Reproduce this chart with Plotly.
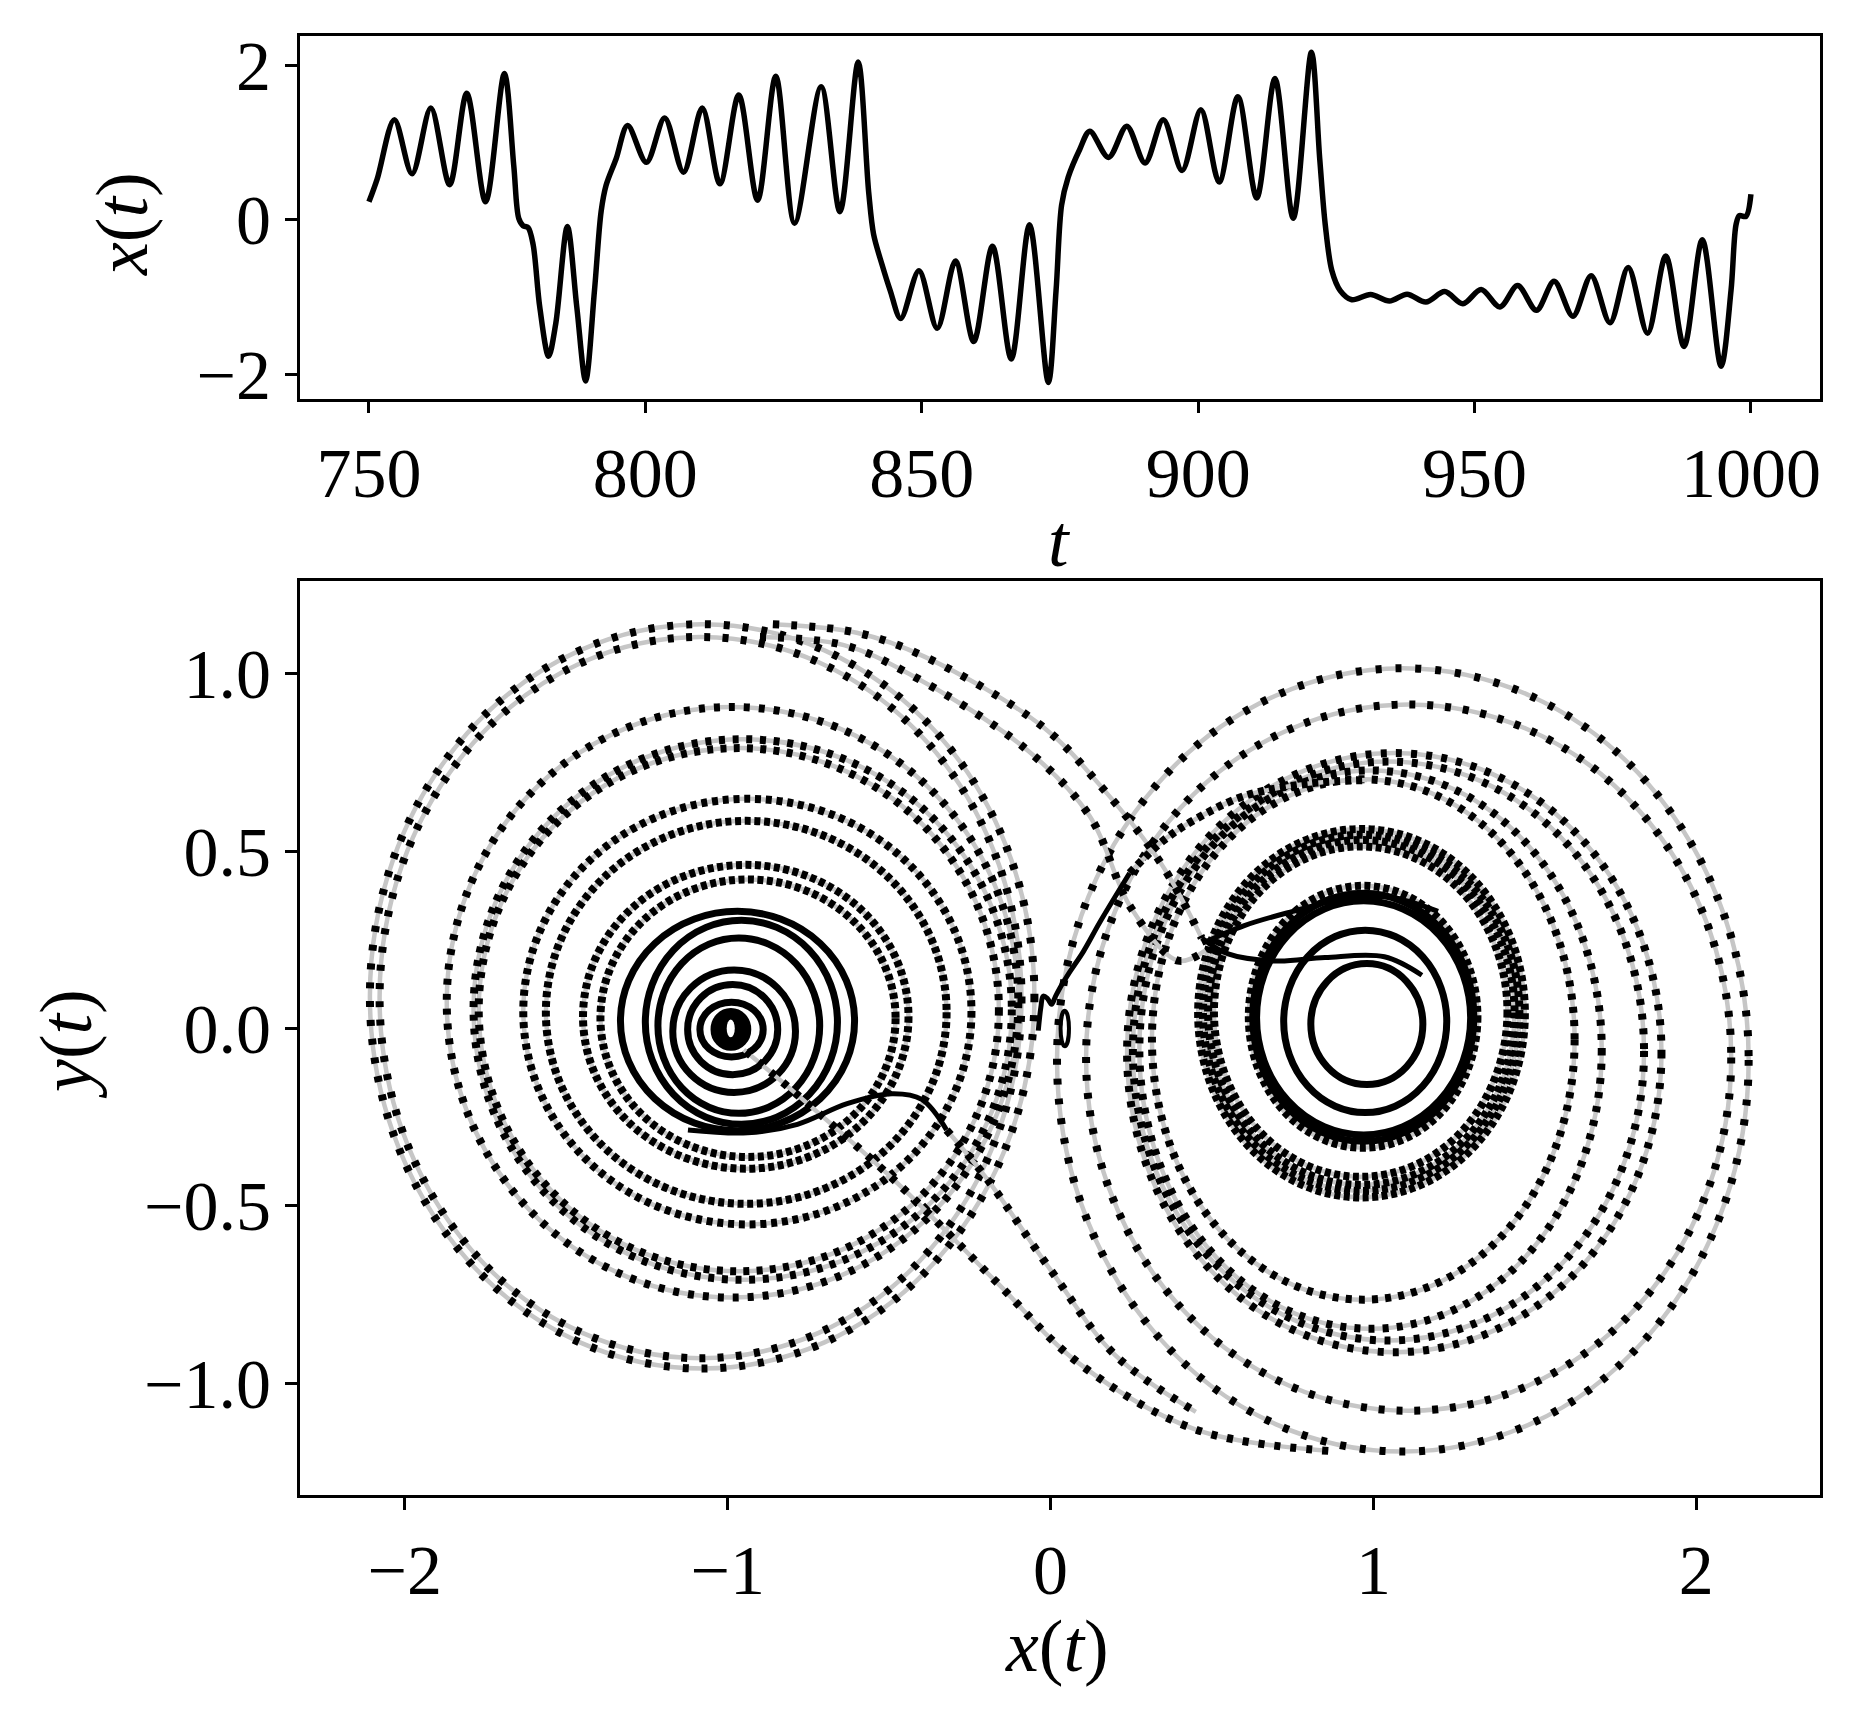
import plotly.graph_objects as go

# ---------------- data: time series x(t) ----------------
t_vals = [750.0, 751.5, 754.6, 757.8, 761.2, 764.6, 767.7, 771.1, 774.5, 776.2, 777.1, 777.9, 778.8,
          779.7, 780.9, 782.5, 783.8, 785.9, 787.6, 789.2, 790.8, 792.0, 792.9, 794.7, 796.8, 800.2,
          803.5, 806.9, 810.3, 813.5, 816.9, 820.3, 823.6, 827.0, 831.8, 835.2, 838.5, 840.4, 841.3,
          842.8, 844.3, 846.2, 849.5, 852.8, 856.1, 859.4, 862.8, 866.2, 869.5, 872.9, 874.3, 875.3,
          876.5, 878.6, 880.4, 883.8, 887.1, 890.4, 893.7, 897.1, 900.5, 903.8, 907.2, 910.6, 913.9,
          917.2, 920.5, 922.0, 923.0, 924.2, 925.7, 927.8, 931.2, 934.6, 937.8, 941.2, 944.6, 947.9,
          951.2, 954.6, 957.8, 961.2, 964.4, 967.8, 971.1, 974.5, 977.8, 981.3, 984.6, 987.9, 991.2,
          994.6, 996.4, 997.3, 997.9, 999.1, 1000.0]
x_vals = [0.233, 0.53, 1.295, 0.595, 1.444, 0.454, 1.635, 0.233, 1.89, 0.70, 0.02, -0.076, -0.10,
          -0.318, -1.125, -1.762, -1.338, -0.085, -1.125, -2.08, -0.913, 0.106, 0.446, 0.786, 1.219, 0.743,
          1.316, 0.616, 1.444, 0.467, 1.614, 0.255, 1.856, -0.042, 1.72, 0.106, 2.038, 0.36, -0.19,
          -0.573, -0.913, -1.274, -0.658, -1.401, -0.531, -1.571, -0.34, -1.796, -0.064, -2.10, -0.913, 0.19,
          0.552, 0.913, 1.146, 0.807, 1.21, 0.735, 1.295, 0.637, 1.423, 0.488, 1.592, 0.284, 1.826,
          0.021, 2.166, 0.786, -0.064, -0.658, -0.913, -1.032, -0.964, -1.049, -0.96, -1.062, -0.926, -1.083,
          -0.90, -1.125, -0.849, -1.168, -0.794, -1.244, -0.722, -1.329, -0.616, -1.465, -0.467, -1.635, -0.255,
          -1.89, -0.913, -0.064, 0.055, 0.045, 0.33]

# ---------------- data: phase portrait loops (bounding boxes) ----------------
left_ring_x0 = [-2.108, -2.078, -1.870, -1.787, -1.771, -1.633, -1.563, -1.448, -1.394, -1.332, -1.255, -1.216, -1.170, -1.124, -1.086]
left_ring_x1 = [-0.050, -0.090, -0.100, -0.120, -0.160, -0.245, -0.322, -0.440, -0.480, -0.607, -0.660, -0.715, -0.790, -0.845, -0.890]
left_ring_y0 = [-0.958, -0.929, -0.758, -0.708, -0.684, -0.552, -0.494, -0.395, -0.362, -0.288, -0.270, -0.239, -0.180, -0.130, -0.080]
left_ring_y1 = [1.139, 1.103, 0.906, 0.815, 0.790, 0.647, 0.585, 0.461, 0.420, 0.330, 0.305, 0.255, 0.165, 0.124, 0.074]

right_ring_x0 = [0.806, 0.722, 0.614, 0.626, 0.638, 0.457, 0.472, 0.488, 0.506, 0.314, 0.275, 0.255, 0.237, 0.110, 0.020]
right_ring_x1 = [1.153, 1.227, 1.322, 1.311, 1.301, 1.469, 1.452, 1.437, 1.415, 1.623, 1.707, 1.838, 1.892, 2.108, 2.162]
right_ring_y0 = [-0.158, -0.237, -0.336, -0.318, -0.300, -0.476, -0.458, -0.441, -0.418, -0.764, -0.846, -0.879, -0.912, -1.077, -1.192]
right_ring_y1 = [0.183, 0.277, 0.402, 0.381, 0.360, 0.562, 0.546, 0.531, 0.513, 0.702, 0.727, 0.752, 0.776, 0.913, 1.015]

core_box = [-1.05, -0.93, -0.06, 0.055]       # x0, x1, y0, y1 of the filled centre
hole_box = [-1.003, -0.978, -0.025, 0.025]

# transitions between the wells
t1_x = [0.86, 0.45, 0.09, -0.168, -0.476, -0.784, -0.95]
t1_y = [-1.19, -1.13, -0.945, -0.714, -0.434, -0.187, -0.06]
t2a_x = [-1.123, -0.938, -0.784, -0.63, -0.491, -0.399, -0.322]
t2a_y = [-0.286, -0.294, -0.27, -0.212, -0.184, -0.2, -0.286]
t2b_x = [-0.322, -0.2, 0.0, 0.2, 0.45]
t2b_y = [-0.286, -0.42, -0.68, -0.92, -1.08]
t3_x = [-0.86, -0.6, -0.389, -0.024, 0.158, 0.34, 0.468]
t3_y = [1.139, 1.115, 1.047, 0.85, 0.68, 0.468, 0.255]
t4_x = [-0.9, -0.64, -0.44, -0.08, 0.12, 0.249, 0.395, 0.48]
t4_y = [1.103, 1.08, 1.0, 0.79, 0.6, 0.34, 0.191, 0.22]
knot_a_x = [0.468, 0.55, 0.7, 0.85, 1.034, 1.15]
knot_a_y = [0.255, 0.21, 0.19, 0.2, 0.202, 0.15]
knot_b_x = [0.47, 0.6, 0.75, 0.888, 1.05, 1.2]
knot_b_y = [0.24, 0.29, 0.33, 0.361, 0.37, 0.33]
wiggle_x = [-0.038, -0.03, -0.023, -0.01, 0.003, 0.015, 0.029, 0.06, 0.101, 0.153, 0.245]
wiggle_y = [-0.006, 0.06, 0.091, 0.085, 0.068, 0.09, 0.114, 0.16, 0.216, 0.3, 0.438]
climb_x = [0.245, 0.35, 0.45, 0.6, 0.8, 0.98]
climb_y = [0.438, 0.53, 0.59, 0.655, 0.69, 0.70]
thin_loop_box = [0.031, 0.057, -0.05, 0.05]

t_ticks = [750, 800, 850, 900, 950, 1000]
xt_ticks = [-2, 0, 2]
px_ticks = [-2, -1, 0, 1, 2]
py_ticks = [-1.0, -0.5, 0.0, 0.5, 1.0]
py_labels = ["\u22121.0", "\u22120.5", "0.0", "0.5", "1.0"]

# ---------------- styling ----------------
FONT = "Liberation Serif"
GRAY = "#c6c6c6"
GRAY_W = 4.5
DOT_W = 8


def dash_for(semi_height):
    if semi_height < 0.36:
        return "solid"
    on = 6
    gap = max(18.0 * semi_height - on, 3.5)
    return f"{on}px,{gap:.1f}px"


fig = go.Figure()

# time series
fig.add_trace(go.Scatter(x=t_vals, y=x_vals, mode="lines",
                         line=dict(color="black", width=5.5, shape="spline", smoothing=0.9),
                         xaxis="x", yaxis="y", showlegend=False, hoverinfo="skip"))

shapes_gray = []
shapes_black = []
rings = list(zip(left_ring_x0, left_ring_x1, left_ring_y0, left_ring_y1)) + \
        list(zip(right_ring_x0, right_ring_x1, right_ring_y0, right_ring_y1))
for x0, x1, y0, y1 in rings:
    semi = (y1 - y0) / 2
    d = dash_for(semi)
    shapes_gray.append(dict(type="circle", xref="x2", yref="y2", x0=x0, x1=x1, y0=y0, y1=y1,
                            line=dict(color=GRAY, width=GRAY_W), layer="below"))
    shapes_black.append(dict(type="circle", xref="x2", yref="y2", x0=x0, x1=x1, y0=y0, y1=y1,
                             line=dict(color="black", width=DOT_W if d != "solid" else 7, dash=d),
                             layer="below"))

extra_shapes = [
    dict(type="circle", xref="x2", yref="y2", x0=core_box[0], x1=core_box[1], y0=core_box[2], y1=core_box[3],
         line=dict(color="black", width=2), fillcolor="black", layer="below"),
    dict(type="circle", xref="x2", yref="y2", x0=hole_box[0], x1=hole_box[1], y0=hole_box[2], y1=hole_box[3],
         line=dict(color="white", width=0), fillcolor="white", layer="below"),
    dict(type="circle", xref="x2", yref="y2", x0=thin_loop_box[0], x1=thin_loop_box[1],
         y0=thin_loop_box[2], y1=thin_loop_box[3], line=dict(color="black", width=4), layer="below"),
]


def add_path(xs, ys, dotted=True, width=DOT_W, dash="6px,10px"):
    if dotted:
        fig.add_trace(go.Scatter(x=xs, y=ys, mode="lines", xaxis="x2", yaxis="y2",
                                 line=dict(color=GRAY, width=GRAY_W, shape="spline", smoothing=1.0),
                                 showlegend=False, hoverinfo="skip"))
        fig.add_trace(go.Scatter(x=xs, y=ys, mode="lines", xaxis="x2", yaxis="y2",
                                 line=dict(color="black", width=width, shape="spline", smoothing=1.0,
                                           dash=dash),
                                 showlegend=False, hoverinfo="skip"))
    else:
        fig.add_trace(go.Scatter(x=xs, y=ys, mode="lines", xaxis="x2", yaxis="y2",
                                 line=dict(color="black", width=width, shape="spline", smoothing=1.0),
                                 showlegend=False, hoverinfo="skip"))


add_path(t1_x, t1_y, dotted=True)
add_path(t2a_x, t2a_y, dotted=False, width=5)
add_path(t2b_x, t2b_y, dotted=True)
add_path(t3_x, t3_y, dotted=True, dash="6px,12px")
add_path(t4_x, t4_y, dotted=True, dash="6px,12px")
add_path(knot_a_x, knot_a_y, dotted=False, width=5)
add_path(knot_b_x, knot_b_y, dotted=False, width=5)
add_path(wiggle_x, wiggle_y, dotted=False, width=5)
add_path(climb_x, climb_y, dotted=True, dash="6px,5px")

axis_common = dict(showline=True, mirror=True, linecolor="black", linewidth=2.5,
                   ticks="outside", ticklen=12, tickwidth=2.5, tickcolor="black",
                   showgrid=False, zeroline=False,
                   tickfont=dict(family=FONT, size=70, color="black"))

W, H = 1849, 1724
xdom = [300 / W, 1821 / W]
fig.update_layout(
    width=W, height=H, autosize=False,
    margin=dict(l=0, r=0, t=0, b=0),
    paper_bgcolor="white", plot_bgcolor="white",
    showlegend=False,
    xaxis=dict(domain=xdom, anchor="y", range=[737.5, 1012.5], tickvals=t_ticks, **axis_common),
    yaxis=dict(domain=[1 - 396 / H, 1 - 28 / H], anchor="x", range=[-2.31, 2.38], tickvals=xt_ticks,
               ticktext=["\u22122", "0", "2"], **axis_common),
    xaxis2=dict(domain=xdom, anchor="y2", range=[-2.325, 2.383], tickvals=px_ticks,
                ticktext=["\u22122", "\u22121", "0", "1", "2"], **axis_common),
    yaxis2=dict(domain=[1 - 1507 / H, 1 - 581 / H], anchor="x2", range=[-1.314, 1.26], tickvals=py_ticks,
                ticktext=py_labels, **axis_common),
    shapes=shapes_gray + shapes_black + extra_shapes,
    annotations=[
        dict(text="<i>t</i>", x=1060 / W, y=1 - 540 / H, xref="paper", yref="paper", showarrow=False,
             font=dict(family=FONT, size=74, color="black"), xanchor="center", yanchor="middle"),
        dict(text="<i>x</i>(<i>t</i>)", x=122 / W, y=1 - 219 / H, xref="paper", yref="paper",
             showarrow=False, textangle=-90,
             font=dict(family=FONT, size=74, color="black"), xanchor="center", yanchor="middle"),
        dict(text="<i>y</i>(<i>t</i>)", x=66 / W, y=1 - 1050 / H, xref="paper", yref="paper",
             showarrow=False, textangle=-90,
             font=dict(family=FONT, size=74, color="black"), xanchor="center", yanchor="middle"),
        dict(text="<i>x</i>(<i>t</i>)", x=1058 / W, y=1 - 1660 / H, xref="paper", yref="paper",
             showarrow=False,
             font=dict(family=FONT, size=74, color="black"), xanchor="center", yanchor="middle"),
    ],
)

fig.write_html("out.html")
